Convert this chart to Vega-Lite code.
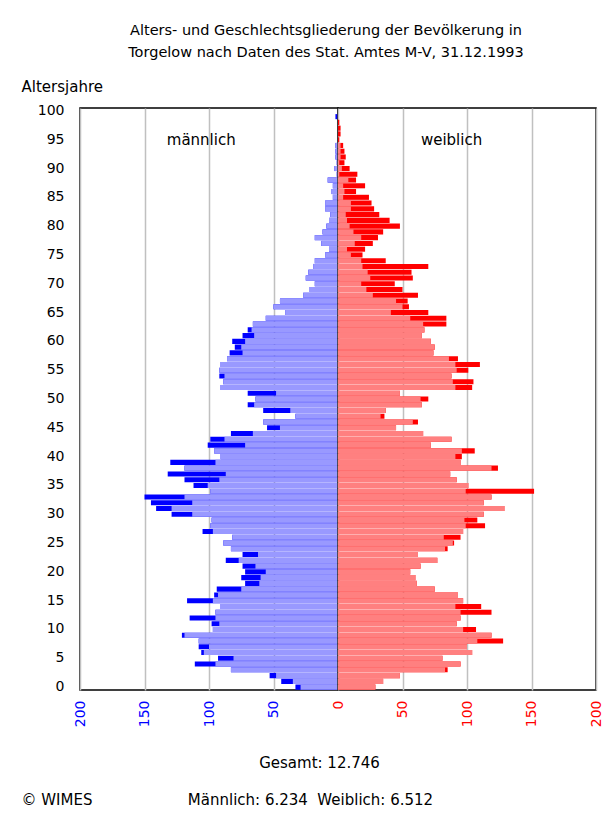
{
  "$schema": "https://vega.github.io/schema/vega-lite/v6.json",
  "background": "white",
  "padding": {"left": 20, "top": 22, "right": 0, "bottom": 0},
  "autosize": {"type": "pad"},
  "bounds": "flush",
  "spacing": 0,
  "config": {
    "font": "DejaVu Sans",
    "view": {"stroke": "#000000", "strokeWidth": 1.5},
    "axis": {"labelFont": "DejaVu Sans", "titleFont": "DejaVu Sans", "labelFontSize": 14, "titleFontSize": 15, "titleFontWeight": "normal", "labelColor": "#000000", "titleColor": "#000000"},
    "text": {"font": "DejaVu Sans", "fontSize": 15, "color": "#000000"}
  },
  "title": {
    "text": ["Alters- und Geschlechtsgliederung der Bevölkerung in", "Torgelow nach Daten des Stat. Amtes M-V, 31.12.1993"],
    "anchor": "middle",
    "font": "DejaVu Sans",
    "fontSize": 14.5,
    "fontWeight": "normal",
    "color": "#000000",
    "lineHeight": 22,
    "offset": 18,
    "dx": 14
  },
  "datasets": {
    "pop": [
      {"age": 0, "m": 33, "f": 29, "c": 29},
      {"age": 1, "m": 44, "f": 35, "c": 35},
      {"age": 2, "m": 53, "f": 48, "c": 48},
      {"age": 3, "m": 83, "f": 85, "c": 83},
      {"age": 4, "m": 111, "f": 95, "c": 95},
      {"age": 5, "m": 93, "f": 81, "c": 81},
      {"age": 6, "m": 106, "f": 104, "c": 104},
      {"age": 7, "m": 108, "f": 100, "c": 100},
      {"age": 8, "m": 108, "f": 128, "c": 108},
      {"age": 9, "m": 121, "f": 119, "c": 119},
      {"age": 10, "m": 97, "f": 107, "c": 97},
      {"age": 11, "m": 98, "f": 92, "c": 92},
      {"age": 12, "m": 115, "f": 95, "c": 95},
      {"age": 13, "m": 95, "f": 119, "c": 95},
      {"age": 14, "m": 91, "f": 111, "c": 91},
      {"age": 15, "m": 117, "f": 97, "c": 97},
      {"age": 16, "m": 96, "f": 93, "c": 93},
      {"age": 17, "m": 94, "f": 75, "c": 75},
      {"age": 18, "m": 72, "f": 61, "c": 61},
      {"age": 19, "m": 75, "f": 60, "c": 60},
      {"age": 20, "m": 72, "f": 56, "c": 56},
      {"age": 21, "m": 74, "f": 64, "c": 64},
      {"age": 22, "m": 87, "f": 77, "c": 77},
      {"age": 23, "m": 74, "f": 62, "c": 62},
      {"age": 24, "m": 83, "f": 85, "c": 83},
      {"age": 25, "m": 89, "f": 90, "c": 89},
      {"age": 26, "m": 82, "f": 95, "c": 82},
      {"age": 27, "m": 105, "f": 97, "c": 97},
      {"age": 28, "m": 99, "f": 114, "c": 99},
      {"age": 29, "m": 98, "f": 108, "c": 98},
      {"age": 30, "m": 129, "f": 113, "c": 113},
      {"age": 31, "m": 141, "f": 129, "c": 129},
      {"age": 32, "m": 145, "f": 113, "c": 113},
      {"age": 33, "m": 150, "f": 119, "c": 119},
      {"age": 34, "m": 99, "f": 152, "c": 99},
      {"age": 35, "m": 112, "f": 101, "c": 101},
      {"age": 36, "m": 119, "f": 92, "c": 92},
      {"age": 37, "m": 132, "f": 87, "c": 87},
      {"age": 38, "m": 119, "f": 124, "c": 119},
      {"age": 39, "m": 130, "f": 95, "c": 95},
      {"age": 40, "m": 91, "f": 96, "c": 91},
      {"age": 41, "m": 96, "f": 106, "c": 96},
      {"age": 42, "m": 101, "f": 72, "c": 72},
      {"age": 43, "m": 99, "f": 88, "c": 88},
      {"age": 44, "m": 83, "f": 66, "c": 66},
      {"age": 45, "m": 55, "f": 45, "c": 45},
      {"age": 46, "m": 58, "f": 62, "c": 58},
      {"age": 47, "m": 33, "f": 36, "c": 33},
      {"age": 48, "m": 58, "f": 37, "c": 37},
      {"age": 49, "m": 70, "f": 65, "c": 65},
      {"age": 50, "m": 64, "f": 70, "c": 64},
      {"age": 51, "m": 70, "f": 48, "c": 48},
      {"age": 52, "m": 91, "f": 104, "c": 91},
      {"age": 53, "m": 89, "f": 105, "c": 89},
      {"age": 54, "m": 92, "f": 88, "c": 88},
      {"age": 55, "m": 92, "f": 101, "c": 92},
      {"age": 56, "m": 91, "f": 110, "c": 91},
      {"age": 57, "m": 86, "f": 93, "c": 86},
      {"age": 58, "m": 84, "f": 74, "c": 74},
      {"age": 59, "m": 80, "f": 75, "c": 75},
      {"age": 60, "m": 82, "f": 72, "c": 72},
      {"age": 61, "m": 74, "f": 65, "c": 65},
      {"age": 62, "m": 70, "f": 67, "c": 67},
      {"age": 63, "m": 66, "f": 84, "c": 66},
      {"age": 64, "m": 56, "f": 84, "c": 56},
      {"age": 65, "m": 41, "f": 70, "c": 41},
      {"age": 66, "m": 50, "f": 55, "c": 50},
      {"age": 67, "m": 45, "f": 54, "c": 45},
      {"age": 68, "m": 27, "f": 62, "c": 27},
      {"age": 69, "m": 22, "f": 50, "c": 22},
      {"age": 70, "m": 18, "f": 44, "c": 18},
      {"age": 71, "m": 25, "f": 58, "c": 25},
      {"age": 72, "m": 23, "f": 57, "c": 23},
      {"age": 73, "m": 19, "f": 70, "c": 19},
      {"age": 74, "m": 18, "f": 37, "c": 18},
      {"age": 75, "m": 10, "f": 19, "c": 10},
      {"age": 76, "m": 7, "f": 21, "c": 7},
      {"age": 77, "m": 13, "f": 27, "c": 13},
      {"age": 78, "m": 18, "f": 31, "c": 18},
      {"age": 79, "m": 12, "f": 35, "c": 12},
      {"age": 80, "m": 9, "f": 48, "c": 9},
      {"age": 81, "m": 7, "f": 40, "c": 7},
      {"age": 82, "m": 6, "f": 32, "c": 6},
      {"age": 83, "m": 10, "f": 28, "c": 10},
      {"age": 84, "m": 10, "f": 26, "c": 10},
      {"age": 85, "m": 4, "f": 24, "c": 4},
      {"age": 86, "m": 5, "f": 14, "c": 5},
      {"age": 87, "m": 4, "f": 21, "c": 4},
      {"age": 88, "m": 8, "f": 14, "c": 8},
      {"age": 89, "m": 1, "f": 15, "c": 1},
      {"age": 90, "m": 3, "f": 9, "c": 3},
      {"age": 91, "m": 1, "f": 5, "c": 1},
      {"age": 92, "m": 2, "f": 6, "c": 2},
      {"age": 93, "m": 2, "f": 5, "c": 2},
      {"age": 94, "m": 2, "f": 4, "c": 2},
      {"age": 95, "m": 0, "f": 1, "c": 0},
      {"age": 96, "m": 0, "f": 2, "c": 0},
      {"age": 97, "m": 0, "f": 2, "c": 0},
      {"age": 98, "m": 0, "f": 1, "c": 0},
      {"age": 99, "m": 2, "f": 0, "c": 0},
      {"age": 100, "m": 0, "f": 0, "c": 0}
    ]
  },
  "hconcat": [
    {
      "width": 258,
      "height": 582,
      "data": {"name": "pop"},
      "layer": [
        {
          "mark": {"type": "bar", "color": "#0000ff"},
          "encoding": {
            "y": {
              "field": "age", "type": "ordinal", "sort": "descending",
              "scale": {"paddingInner": 0.12, "paddingOuter": 0.06},
              "axis": {
                "values": [0, 5, 10, 15, 20, 25, 30, 35, 40, 45, 50, 55, 60, 65, 70, 75, 80, 85, 90, 95, 100],
                "ticks": false, "domain": false, "grid": false,
                "labelPadding": 16,
                "title": "Altersjahre", "titleAngle": 0, "titleX": -59, "titleY": -22,
                "titleAlign": "left", "titleBaseline": "middle"
              }
            },
            "x": {
              "field": "m", "type": "quantitative",
              "scale": {"domain": [0, 200], "reverse": true, "nice": false},
              "axis": {
                "values": [50, 100, 150, 200],
                "labelAngle": 270, "labelColor": "#0000ff", "labelPadding": 10,
                "ticks": false, "domain": false,
                "grid": true, "gridColor": "#c0c0c0", "gridWidth": 1.5,
                "title": "© WIMES\u00a0\u00a0\u00a0\u00a0\u00a0\u00a0\u00a0\u00a0\u00a0\u00a0\u00a0\u00a0\u00a0\u00a0\u00a0\u00a0\u00a0\u00a0\u00a0\u00a0Männlich: 6.234\u00a0\u00a0Weiblich: 6.512",
                "titleX": -59, "titleY": 109, "titleAlign": "left", "titleBaseline": "middle"
              }
            }
          }
        },
        {
          "mark": {"type": "bar", "color": "#9999ff"},
          "encoding": {
            "y": {"field": "age", "type": "ordinal", "sort": "descending"},
            "x": {"field": "c", "type": "quantitative"}
          }
        },
        {
          "data": {"values": [{"label": "männlich"}]},
          "mark": {"type": "text"},
          "encoding": {
            "y": {"datum": 95, "type": "ordinal"},
            "x": {"datum": 106, "type": "quantitative"},
            "text": {"field": "label"}
          }
        }
      ]
    },
    {
      "width": 258,
      "height": 582,
      "data": {"name": "pop"},
      "layer": [
        {
          "mark": {"type": "bar", "color": "#ff0000"},
          "encoding": {
            "y": {
              "field": "age", "type": "ordinal", "sort": "descending",
              "scale": {"paddingInner": 0.12, "paddingOuter": 0.06},
              "axis": null
            },
            "x": {
              "field": "f", "type": "quantitative",
              "scale": {"domain": [0, 200], "nice": false},
              "axis": {
                "values": [0, 50, 100, 150, 200],
                "labelAngle": 270, "labelColor": "#ff0000", "labelPadding": 10,
                "ticks": false, "domain": false,
                "grid": true, "gridColor": "#c0c0c0", "gridWidth": 1.5,
                "title": "Gesamt: 12.746",
                "titleX": -19, "titleY": 72, "titleAlign": "center", "titleBaseline": "middle"
              }
            }
          }
        },
        {
          "mark": {"type": "bar", "color": "#ff8080"},
          "encoding": {
            "y": {"field": "age", "type": "ordinal", "sort": "descending"},
            "x": {"field": "c", "type": "quantitative"}
          }
        },
        {
          "data": {"values": [{"label": "weiblich"}]},
          "mark": {"type": "text"},
          "encoding": {
            "y": {"datum": 95, "type": "ordinal"},
            "x": {"datum": 88, "type": "quantitative"},
            "text": {"field": "label"}
          }
        }
      ]
    }
  ]
}
